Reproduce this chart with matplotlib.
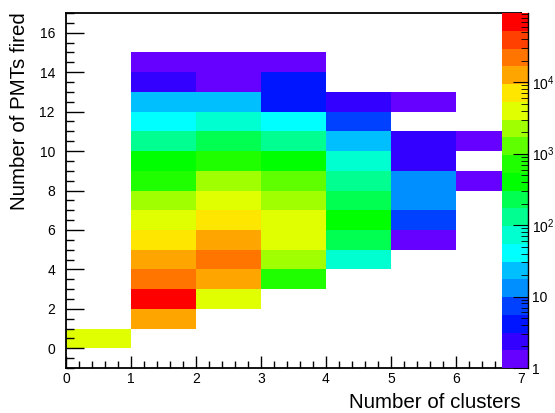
import matplotlib
matplotlib.use("Agg")
import matplotlib.pyplot as plt
import numpy as np
from matplotlib.colors import ListedColormap, BoundaryNorm
from matplotlib.ticker import FixedLocator, FixedFormatter, MultipleLocator

plt.rcParams['font.family'] = ['Liberation Sans', 'DejaVu Sans']
plt.rcParams['mathtext.default'] = 'regular'

# bin edges
x_edges = np.arange(0, 8)          # number of clusters 0..7
y_edges = np.arange(0, 16)         # number of PMTs fired 0..15

# counts per cluster bin, index = number of PMTs fired (0..14), 0 = empty
n_clusters_0 = [3900, 0, 0, 0, 0, 0, 0, 0, 0, 0, 0, 0, 0, 0, 0]
n_clusters_1 = [0, 12000, 60000, 21000, 12000, 6900, 3900, 2200, 700, 400, 126, 41, 23, 2, 1]
n_clusters_2 = [0, 0, 3900, 12000, 21000, 12000, 6900, 3900, 2200, 700, 220, 72, 23, 1, 1]
n_clusters_3 = [0, 0, 0, 700, 2200, 3900, 3900, 2200, 1240, 400, 126, 41, 4, 4, 1]
n_clusters_4 = [0, 0, 0, 0, 72, 220, 400, 220, 126, 72, 23, 7, 2, 0, 0]
n_clusters_5 = [0, 0, 0, 0, 0, 1, 7, 13, 13, 2, 2, 0, 1, 0, 0]
n_clusters_6 = [0, 0, 0, 0, 0, 0, 0, 0, 1, 0, 1, 0, 0, 0, 0]

z_min = 1
z_max = 9.3e4

# ROOT-like palette, 20 contour bands (bottom to top)
palette = ['#6600ff', '#3300ff', '#0015ff', '#0040ff', '#008fff',
           '#00bfff', '#00ffff', '#00ffd0', '#00ff90', '#00ff50',
           '#00ff00', '#20ff00', '#60ff00', '#a0ff00', '#e0ff00',
           '#ffe600', '#ffa500', '#ff7500', '#ff4000', '#ff0000']

counts = np.array([n_clusters_0, n_clusters_1, n_clusters_2, n_clusters_3,
                   n_clusters_4, n_clusters_5, n_clusters_6], dtype=float).T
counts = np.ma.masked_where(counts <= 0, counts)

bounds = np.logspace(0, np.log10(z_max), len(palette) + 1)
cmap = ListedColormap(palette)
norm = BoundaryNorm(bounds, cmap.N)

fig = plt.figure(figsize=(5.55, 4.13), dpi=100)
ax = fig.add_axes([66 / 555, 45 / 413, 455 / 555, 355 / 413])
ax.pcolormesh(x_edges, y_edges, counts, cmap=cmap, norm=norm)
ax.set_xlim(0, 7)
ax.set_ylim(-1, 17)

ax.xaxis.set_major_locator(MultipleLocator(1))
ax.xaxis.set_minor_locator(MultipleLocator(0.2))
ax.yaxis.set_major_locator(MultipleLocator(2))
ax.yaxis.set_minor_locator(MultipleLocator(0.5))
ax.tick_params(axis='both', which='both', direction='in', top=False, right=False,
               labelsize=10, width=1.0)
ax.tick_params(axis='x', which='major', length=9, pad=3)
ax.tick_params(axis='x', which='minor', length=5)
ax.tick_params(axis='y', which='major', length=13, pad=8)
ax.tick_params(axis='y', which='minor', length=6)
for s in ax.spines.values():
    s.set_linewidth(1.3)

fig.text(521 / 555, 1 - 402 / 413, 'Number of clusters', ha='right', va='center', fontsize=14.8)
fig.text(20 / 555, 1 - 12 / 413, 'Number of PMTs fired', ha='center', va='top',
         rotation=90, fontsize=14.8)

# palette axis
cax = fig.add_axes([502 / 555, 45 / 413, 25.5 / 555, 355 / 413])
band_mid = np.sqrt(bounds[:-1] * bounds[1:])
cax.pcolormesh([0, 1], bounds, band_mid.reshape(-1, 1), cmap=cmap, norm=norm)
cax.set_yscale('log')
cax.set_ylim(z_min, z_max)
cax.set_xlim(0, 1)
cax.set_xticks([])
for side in ['left', 'top', 'bottom']:
    cax.spines[side].set_visible(False)
cax.spines['right'].set_linewidth(1.0)
cax.yaxis.tick_right()
cax.yaxis.set_major_locator(FixedLocator([1, 10, 100, 1000, 10000]))
cax.yaxis.set_major_formatter(FixedFormatter(['1', '10', '$10^{2}$', '$10^{3}$', '$10^{4}$']))
minor = [m * 10 ** d for d in range(0, 5) for m in range(2, 10) if m * 10 ** d < z_max]
cax.yaxis.set_minor_locator(FixedLocator(minor))
cax.yaxis.set_minor_formatter(FixedFormatter([''] * len(minor)))
cax.tick_params(axis='y', which='both', direction='in', left=False, right=True,
                labelsize=10, pad=3.5)
cax.tick_params(axis='y', which='major', length=11)
cax.tick_params(axis='y', which='minor', length=5)

fig.savefig('out.png', dpi=100)
